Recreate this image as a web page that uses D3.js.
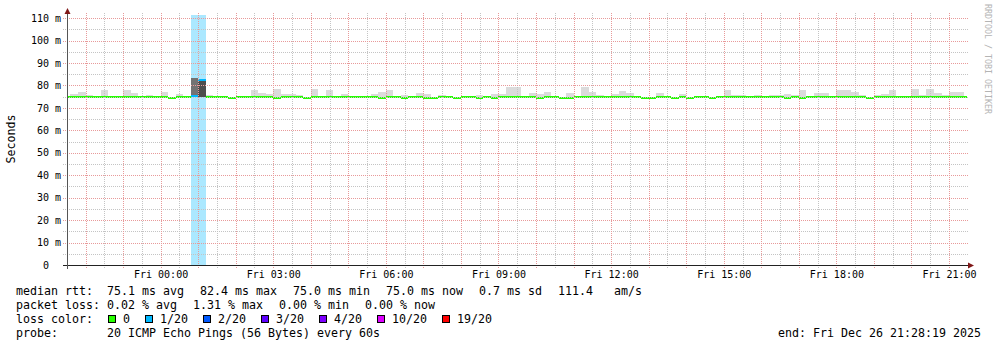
<!DOCTYPE html>
<html>
<head>
<meta charset="utf-8">
<script src="https://cdn.jsdelivr.net/npm/d3@7"></script>
<style>
html, body { margin: 0; padding: 0; background: #fff; }
svg text { font-family: "DejaVu Sans Mono", monospace; }
</style>
</head>
<body>
<div id="chart"></div>
<script>
// time range of the graph (UTC used as wall clock)
const rangeStart = Date.UTC(2025, 11, 25, 21, 30, 26);
const rangeEnd = Date.UTC(2025, 11, 26, 21, 28, 45);
const binStart = Date.UTC(2025, 11, 25, 21, 24, 0);
const binMinutes = 12;
const yMax = 111.36;
const yTicks = [0, 10, 20, 30, 40, 50, 60, 70, 80, 90, 100, 110];

// median rtt per 12 minute bin (ms)
const median = [
  75.0, 75.0, 75.0, 75.0, 75.0, 75.0, 75.0, 75.0, 75.0, 75.0,
  75.0, 75.0, 75.0, 75.0, 74.4, 75.0, 75.0, 75.3, 82.4, 75.0,
  75.0, 75.0, 74.4, 75.0, 75.0, 75.0, 75.0, 75.0, 74.4, 75.0,
  75.0, 75.0, 74.4, 75.0, 75.0, 75.0, 75.0, 75.0, 75.0, 75.0,
  75.0, 75.0, 74.4, 75.0, 75.0, 74.4, 75.0, 75.0, 74.4, 74.4,
  75.0, 75.0, 74.4, 75.0, 75.0, 74.4, 75.0, 74.4, 75.0, 75.0,
  75.0, 75.0, 75.0, 74.4, 75.0, 75.0, 74.4, 74.4, 75.0, 75.0,
  75.0, 75.0, 75.0, 75.0, 75.0, 75.0, 75.0, 74.4, 74.4, 75.0,
  75.0, 74.4, 75.0, 74.4, 75.0, 75.0, 74.4, 75.0, 75.0, 75.0,
  75.0, 75.0, 75.0, 75.0, 75.0, 75.0, 74.4, 75.0, 74.4, 75.0,
  75.0, 75.0, 75.0, 75.0, 75.0, 75.0, 75.0, 74.4, 75.0, 75.0,
  75.0, 75.0, 75.0, 75.0, 75.0, 75.0, 75.0, 75.0, 75.0, 75.0,
  75.0
];

// highest ping per bin (top of the smoke, ms)
const smokeHi = [
  75.0, 76.3, 77.0, 75.7, 75.0, 77.8, 75.0, 75.0, 77.8, 76.8,
  75.0, 75.7, 75.0, 77.0, 75.0, 76.3, 75.0, 83.3, 82.4, 75.7,
  75.0, 75.0, 75.0, 75.0, 75.0, 77.8, 76.8, 76.3, 78.2, 76.3,
  76.2, 75.7, 75.0, 78.5, 75.0, 78.0, 75.0, 76.2, 75.0, 75.0,
  75.0, 76.2, 77.0, 78.0, 75.0, 75.7, 75.0, 76.6, 76.2, 75.0,
  75.7, 75.0, 75.0, 75.0, 75.0, 75.7, 75.0, 76.2, 76.2, 79.3,
  79.3, 75.0, 76.6, 76.2, 77.0, 75.0, 75.0, 76.6, 75.0, 79.3,
  77.0, 75.7, 75.0, 76.2, 77.5, 76.6, 75.0, 75.0, 75.0, 76.6,
  75.0, 75.0, 76.2, 75.0, 75.0, 75.0, 75.0, 75.0, 78.0, 75.7,
  75.7, 75.0, 75.7, 75.0, 75.7, 75.7, 76.2, 75.7, 78.0, 75.0,
  76.6, 76.6, 75.0, 78.0, 78.0, 77.0, 75.7, 75.0, 75.7, 76.2,
  78.0, 75.0, 75.0, 78.4, 75.7, 78.4, 76.6, 75.7, 77.0, 77.0,
  75.0
];
const pingMin = 75.0;

// lost pings out of 20, only non-zero bins listed
const lossBins = [17, 18];
const lossCounts = [1, 1];
// how packed the pings are (0..1), default for quiet bins
const smokeDensityDefault = 0.14;
const smokeDensityBins = [17, 18];
const smokeDensityValues = [0.55, 0.7];

const lossLevels = [1, 2, 3, 4, 10, 19];
const lossColors = ["#26ff00", "#00b8ff", "#0059ff", "#5e00ff", "#7e00ff", "#dd00ff", "#ff0000"];
const lossLabels = ["0", "1/20", "2/20", "3/20", "4/20", "10/20", "19/20"];

const rttStats = ["75.1 ms avg", "82.4 ms max", "75.0 ms min", "75.0 ms now", "0.7 ms sd", "111.4   am/s"];
const lossStats = ["0.02 % avg", "1.31 % max", "0.00 % min", "0.00 % now"];
const probeText = "20 ICMP Echo Pings (56 Bytes) every 60s";
const endText = "end: Fri Dec 26 21:28:19 2025";

// layout
const W = 997, H = 347;
const plot = { left: 67, right: 967, top: 15, bottom: 265 };
const CH = 7; // legend char advance

const svg = d3.select('#chart')
    .append('svg')
    .attr('width', W)
    .attr('height', H)
    .style('display', 'block');

svg.append('rect').attr('width', W).attr('height', H).attr('fill', '#fff');

const x = d3.scaleUtc().domain([rangeStart, rangeEnd]).range([plot.left, plot.right]);
const y = d3.scaleLinear().domain([0, yMax]).range([plot.bottom, plot.top]);
const lossColor = d3.scaleThreshold().domain(lossLevels).range(lossColors);
const grey = d3.scaleLinear().domain([0, 1]).range(['#ffffff', '#000000']);

svg.append('clipPath').attr('id', 'plotclip')
    .append('rect')
    .attr('x', plot.left).attr('y', plot.top)
    .attr('width', plot.right - plot.left).attr('height', plot.bottom - plot.top);

const bins = median.map((m, i) => {
    const t0 = binStart + i * binMinutes * 60000;
    const li = lossBins.indexOf(i);
    const di = smokeDensityBins.indexOf(i);
    return {
        t0: t0,
        t1: t0 + binMinutes * 60000,
        median: m,
        hi: smokeHi[i],
        loss: li >= 0 ? lossCounts[li] : 0,
        density: di >= 0 ? smokeDensityValues[di] : smokeDensityDefault
    };
});

const g = svg.append('g').attr('clip-path', 'url(#plotclip)');

// loss background
g.selectAll('.lossbg')
    .data(bins.filter((d) => d.loss > 0))
    .enter()
    .append('rect')
    .attr('class', 'lossbg')
    .attr('x', (d) => x(d.t0))
    .attr('width', (d) => x(d.t1) - x(d.t0))
    .attr('y', plot.top)
    .attr('height', plot.bottom - plot.top)
    .attr('fill', (d) => lossColor(d.loss))
    .attr('fill-opacity', 0.33)
    .attr('shape-rendering', 'crispEdges');

// smoke
g.selectAll('.smoke')
    .data(bins.filter((d) => d.hi > pingMin))
    .enter()
    .append('rect')
    .attr('class', 'smoke')
    .attr('x', (d) => x(d.t0))
    .attr('width', (d) => x(d.t1) - x(d.t0))
    .attr('y', (d) => y(d.hi))
    .attr('height', (d) => y(pingMin) - y(d.hi))
    .attr('fill', (d) => grey(d.density))
    .attr('shape-rendering', 'crispEdges');

// grid
const gridG = svg.append('g').attr('shape-rendering', 'crispEdges');
const hours = d3.utcHour.every(1).range(rangeStart, rangeEnd);
const halfHours = d3.utcMinute.every(30).range(rangeStart, rangeEnd)
    .filter((t) => t.getUTCMinutes() === 30);

gridG.selectAll('.vminor')
    .data(halfHours)
    .enter()
    .append('line')
    .attr('x1', (d) => Math.round(x(d)) + 0.5)
    .attr('x2', (d) => Math.round(x(d)) + 0.5)
    .attr('y1', 13).attr('y2', 269)
    .attr('stroke', '#c4c4c4')
    .attr('stroke-dasharray', '1,1');

gridG.selectAll('.hminor')
    .data(d3.range(5, 111, 10))
    .enter()
    .append('line')
    .attr('x1', 63).attr('x2', 968)
    .attr('y1', (d) => Math.round(y(d)) + 0.5)
    .attr('y2', (d) => Math.round(y(d)) + 0.5)
    .attr('stroke', '#c4c4c4')
    .attr('stroke-dasharray', '1,1');

gridG.selectAll('.vmajor')
    .data(hours)
    .enter()
    .append('line')
    .attr('x1', (d) => Math.round(x(d)) + 0.5)
    .attr('x2', (d) => Math.round(x(d)) + 0.5)
    .attr('y1', 13).attr('y2', 269)
    .attr('stroke', '#e89a9a')
    .attr('stroke-dasharray', '1,1');

gridG.selectAll('.hmajor')
    .data(yTicks.filter((d) => d > 0))
    .enter()
    .append('line')
    .attr('x1', 63).attr('x2', 968)
    .attr('y1', (d) => Math.round(y(d)) + 0.5)
    .attr('y2', (d) => Math.round(y(d)) + 0.5)
    .attr('stroke', '#e89a9a')
    .attr('stroke-dasharray', '1,1');

// median line, coloured by loss
g.selectAll('.median')
    .data(bins)
    .enter()
    .append('line')
    .attr('class', 'median')
    .attr('x1', (d) => x(d.t0))
    .attr('x2', (d) => x(d.t1))
    .attr('y1', (d) => y(d.median))
    .attr('y2', (d) => y(d.median))
    .attr('stroke', (d) => lossColor(d.loss))
    .attr('stroke-width', 2)
    .attr('shape-rendering', 'crispEdges');

// axes lines and arrows
svg.append('line')
    .attr('x1', 63).attr('x2', 969)
    .attr('y1', plot.bottom + 0.5).attr('y2', plot.bottom + 0.5)
    .attr('stroke', '#222').attr('shape-rendering', 'crispEdges');
svg.append('line')
    .attr('x1', plot.left + 0.5).attr('x2', plot.left + 0.5)
    .attr('y1', 269).attr('y2', 12)
    .attr('stroke', '#555').attr('shape-rendering', 'crispEdges');
svg.append('path')
    .attr('d', 'M968,262.5L974,265.5L968,268.5Z')
    .attr('fill', '#801818');
svg.append('path')
    .attr('d', 'M64.5,14L67.5,8L70.5,14Z')
    .attr('fill', '#801818');

// x tick labels
const xAxis = d3.axisBottom(x)
    .ticks(d3.utcHour.every(3))
    .tickFormat(d3.utcFormat('%a %H:%M'))
    .tickSize(0)
    .tickPadding(6);
const xg = svg.append('g')
    .attr('transform', 'translate(0,' + plot.bottom + ')')
    .call(xAxis);
xg.select('.domain').remove();
xg.selectAll('text')
    .attr('font-family', '"DejaVu Sans Mono", monospace')
    .attr('font-size', 10)
    .attr('fill', '#000');

// y tick labels
const yAxis = d3.axisLeft(y)
    .tickValues(yTicks)
    .tickFormat((d) => d === 0 ? '0\u00a0\u00a0' : d + ' m')
    .tickSize(0)
    .tickPadding(0);
const yg = svg.append('g')
    .attr('transform', 'translate(61,0)')
    .call(yAxis);
yg.select('.domain').remove();
yg.selectAll('text')
    .attr('font-family', '"DejaVu Sans Mono", monospace')
    .attr('font-size', 10)
    .attr('fill', '#000');

// axis title
svg.append('text')
    .attr('transform', 'translate(14.5,139) rotate(-90)')
    .attr('text-anchor', 'middle')
    .attr('font-size', 11.63)
    .text('Seconds');

// watermark
svg.append('text')
    .attr('transform', 'translate(985,4) rotate(90)')
    .attr('font-size', 8.3)
    .attr('fill', '#b4b4b4')
    .text('RRDTOOL / TOBI OETIKER');

// legend
const legend = svg.append('g').attr('font-size', 11.63).attr('fill', '#000');
const col0 = 16, col1 = 107;

const statRow = (label, items, baseline) => {
    legend.append('text').attr('x', col0).attr('y', baseline).text(label);
    let xx = col1;
    items.forEach((s) => {
        legend.append('text').attr('x', xx).attr('y', baseline)
            .style('white-space', 'pre').text(s);
        xx += (s.length + 2) * CH + 2;
    });
};
statRow('median rtt:', rttStats, 295);
statRow('packet loss:', lossStats, 309);

legend.append('text').attr('x', col0).attr('y', 323).text('loss color:');
let sx = 108;
lossLabels.forEach((lab, i) => {
    legend.append('rect')
        .attr('x', sx + 0.5).attr('y', 315.5)
        .attr('width', 7).attr('height', 7)
        .attr('fill', lossColors[i])
        .attr('stroke', '#000')
        .attr('shape-rendering', 'crispEdges');
    legend.append('text').attr('x', sx + 15).attr('y', 323).text(lab);
    sx = sx + 15 + lab.length * CH + 15;
});

legend.append('text').attr('x', col0).attr('y', 337).text('probe:');
legend.append('text').attr('x', col1).attr('y', 337).text(probeText);
legend.append('text').attr('x', 981).attr('y', 337).attr('text-anchor', 'end').text(endText);
</script>
</body>
</html>
